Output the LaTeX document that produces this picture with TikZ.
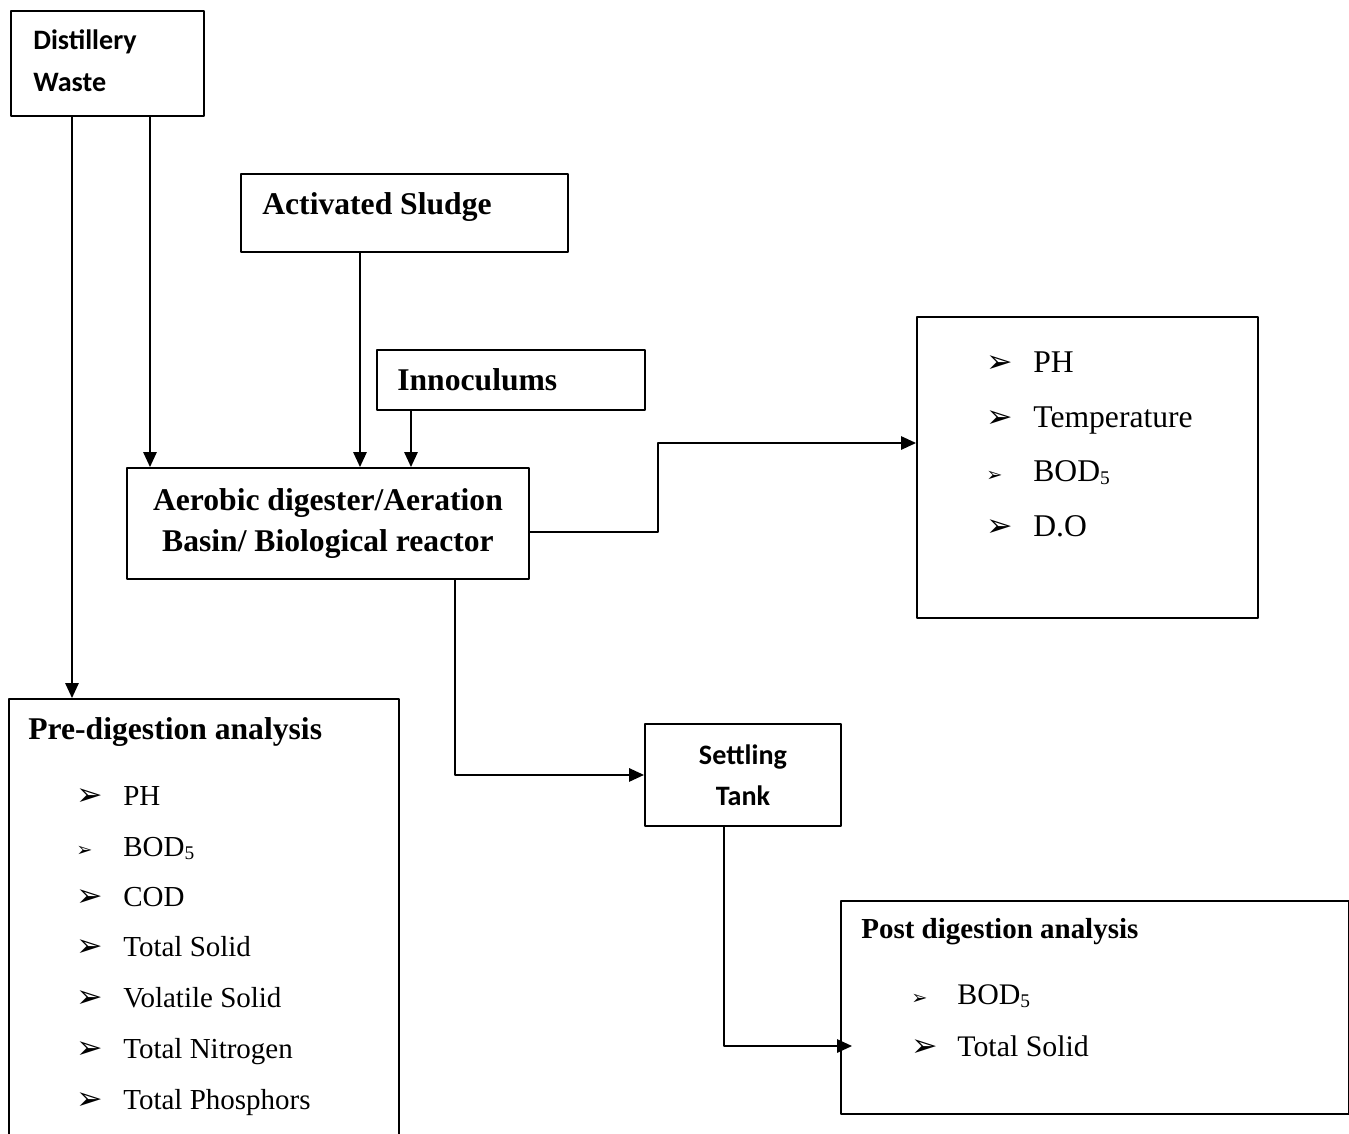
\documentclass[tikz,border=0pt]{standalone}
\usepackage{fontspec}
\setmainfont{Liberation Serif}
\newfontfamily\calibri{Carlito}
\newfontfamily\dingfont{DejaVu Sans}
\usetikzlibrary{arrows.meta}

\newcommand\bigbul{{\dingfont\fontsize{18}{18}\selectfont ➢}}
\newcommand\smallbul{{\dingfont\fontsize{11}{11}\selectfont ➢}}
\newcommand\bodfive{BOD{\raisebox{-0.25ex}{\fontsize{11}{11}\selectfont 5}}}

\begin{document}
\begin{tikzpicture}[x=0.02cm, y=-0.02cm, line join=round, >={Triangle[length=3mm,width=2.7mm]},
	box/.style={draw, line width=1.1pt, anchor=north west, inner sep=0pt},
	head/.style={anchor=base west, inner sep=0pt, font=\bfseries\fontsize{18}{23.8}\selectfont},
	cal/.style={anchor=base west, inner sep=0pt, font=\calibri\bfseries\fontsize{16}{20}\selectfont},
	item/.style={anchor=base west, inner sep=0pt},
	arr/.style={->, line width=0.85pt}]
	\useasboundingbox (0,0) rectangle (1349,1133);

	% boxes
	\node[box, minimum width=3.86cm, minimum height=2.10cm] (waste) at (10,10) {};
	\node[box, minimum width=6.54cm, minimum height=1.56cm] (sludge) at (240,173) {};
	\node[box, minimum width=5.36cm, minimum height=1.20cm] (inoc) at (376,349) {};
	\node[box, minimum width=8.04cm, minimum height=2.22cm, align=center,
		font=\bfseries\fontsize{18}{23.8}\selectfont] (reactor) at (126,467)
		{Aerobic digester/Aeration\\Basin/ Biological reactor};
	\node[box, minimum width=6.82cm, minimum height=6.02cm] (params) at (916,316) {};
	\node[box, minimum width=7.80cm, minimum height=9.00cm] (pre) at (8,698) {};
	\node[box, minimum width=3.92cm, minimum height=2.04cm, align=center,
		font=\calibri\bfseries\fontsize{16}{23.2}\selectfont] (tank) at (644,723)
		{Settling\\Tank};
	\node[box, minimum width=10.16cm, minimum height=4.26cm] (post) at (840,900) {};

	% box texts
	\node[cal] (waste1) at ([shift={(23,39)}]waste.north west) {Distillery};
	\node[cal] (waste2) at ([shift={(23,81)}]waste.north west) {Waste};
	\node[head] (sludgetxt) at ([shift={(22,41)}]sludge.north west) {Activated Sludge};
	\node[head] (inoctxt) at ([shift={(21,41)}]inoc.north west) {Innoculums};
	\node[head] (pretxt) at ([shift={(20,41)}]pre.north west) {Pre-digestion analysis};
	\node[head, font=\bfseries\fontsize{16.5}{20}\selectfont] (posttxt) at ([shift={(21,38)}]post.north west) {Post digestion analysis};

	% lists
	\foreach \n/\y/\b/\t in {1/56/\bigbul/PH, 2/111/\bigbul/Temperature,
		3/165/\smallbul/\bodfive, 4/220/\bigbul/D.O} {
		\node[item] (parb\n) at ([shift={(70,\y)}]params.north west) {\b};
		\node[item, font=\fontsize{18}{22}\selectfont] (par\n) at ([shift={(117,\y)}]params.north west) {\t};
	}
	\foreach \n/\y/\b/\t in {1/107/\bigbul/PH, 2/158/\smallbul/\bodfive,
		3/208/\bigbul/COD, 4/258/\bigbul/Total Solid, 5/309/\bigbul/Volatile Solid,
		6/360/\bigbul/Total Nitrogen, 7/411/\bigbul/Total Phosphors} {
		\node[item] (preb\n) at ([shift={(68,\y)}]pre.north west) {\b};
		\node[item, font=\fontsize{16.5}{20}\selectfont] (pre\n) at ([shift={(115,\y)}]pre.north west) {\t};
	}
	\foreach \n/\y/\b/\t in {1/104/\smallbul/\bodfive, 2/156/\bigbul/Total Solid} {
		\node[item] (postb\n) at ([shift={(71,\y)}]post.north west) {\b};
		\node[item, font=\fontsize{17}{21}\selectfont] (post\n) at ([shift={(117,\y)}]post.north west) {\t};
	}

	% connectors
	\coordinate (w1) at ([shift={(62,0)}]waste.south west);
	\coordinate (w2) at ([shift={(140,0)}]waste.south west);
	\coordinate (s1) at ([shift={(120,0)}]sludge.south west);
	\coordinate (i1) at ([shift={(35,0)}]inoc.south west);
	\coordinate (r1) at ([shift={(0,65)}]reactor.north east);
	\coordinate (r2) at ([shift={(329,0)}]reactor.south west);
	\coordinate (p1) at ([shift={(0,127)}]params.north west);
	\coordinate (t1) at ([shift={(80,0)}]tank.south west);
	\coordinate (q1) at ([shift={(12,146)}]post.north west);

	\draw[arr] (w1) -- (w1 |- pre.north);
	\draw[arr] (w2) -- (w2 |- reactor.north);
	\draw[arr] (s1) -- (s1 |- reactor.north);
	\draw[arr] (i1) -- (i1 |- reactor.north);
	\draw[arr] (r1) -- ++(128,0) |- (p1);
	\draw[arr] (r2) |- (tank.west);
	\draw[arr] (t1) |- (q1);
\end{tikzpicture}
\end{document}
